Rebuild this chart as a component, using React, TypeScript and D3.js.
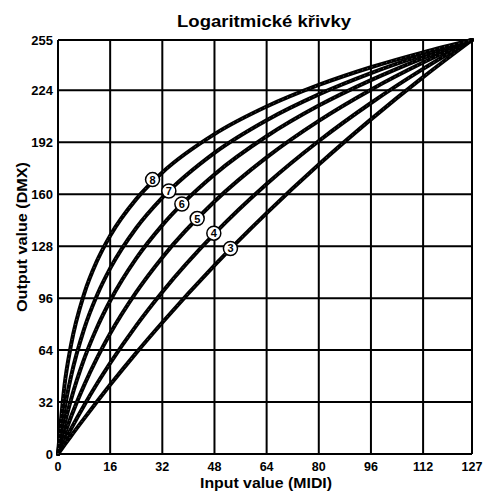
import React, { useEffect, useRef } from 'react';
import * as d3 from 'd3';

// Input (MIDI) sample points
const inputs = [0, 2, 4, 8, 12, 16, 24, 32, 48, 64, 80, 96, 112, 127];

// Output (DMX), labelled 3..8
const curve3 = [0, 5.6, 11.1, 21.8, 32.3, 42.6, 62.3, 81.0, 116.2, 148.4, 178.3, 206.1, 232.1, 255];
const curve4 = [0, 7.9, 15.5, 29.9, 43.4, 56.0, 79.1, 99.8, 135.7, 166.3, 192.8, 216.2, 237.2, 255];
const curve5 = [0, 11.9, 22.9, 42.3, 59.2, 74.2, 99.7, 121.1, 155.5, 182.7, 205.2, 224.4, 241.1, 255];
const curve6 = [0, 18.3, 33.6, 58.4, 78.1, 94.4, 120.5, 141.0, 172.2, 195.7, 214.6, 230.3, 243.9, 255];
const curve7 = [0, 27.6, 47.8, 76.9, 97.9, 114.3, 139.2, 157.9, 185.5, 205.6, 221.5, 234.6, 245.8, 255];
const curve8 = [0, 42.4, 67.2, 98.5, 119.1, 134.5, 157.0, 173.4, 197.0, 214.0, 227.3, 238.2, 247.4, 255];

const curveNames = ['3', '4', '5', '6', '7', '8'];
// where each number badge sits (input, output)
const labelInput = [52.9, 47.8, 42.7, 38, 34, 29];
const labelOutput = [126.6, 136, 145, 154, 162, 169];

const xTicks = [0, 16, 32, 48, 64, 80, 96, 112, 127];
const yTicks = [0, 32, 64, 96, 128, 160, 192, 224, 255];

export default function App() {
  const svgRef = useRef<SVGSVGElement>(null);

  useEffect(() => {
    if (!svgRef.current) return;
    const svg = d3.select(svgRef.current);
    svg.selectAll('*').remove();

    const width = 484;
    const height = 492;
    const left = 58, right = 472, top = 40, bottom = 454;
    const font = 'Liberation Sans, Arial, sans-serif';

    svg.append('rect').attr('width', width).attr('height', height).attr('fill', '#fff');

    const x = d3.scaleLinear().domain([0, 127]).range([left, right]);
    const y = d3.scaleLinear().domain([0, 255]).range([bottom, top]);

    // title (the original face is wider, so stretch it)
    svg.append('text')
      .attr('x', 264).attr('y', 27)
      .attr('text-anchor', 'middle')
      .attr('font-family', font).attr('font-weight', 'bold').attr('font-size', '17px')
      .attr('textLength', 174).attr('lengthAdjust', 'spacingAndGlyphs')
      .text('Logaritmické křivky');

    // grid
    const grid = svg.append('g').attr('stroke', '#000').attr('stroke-width', 2);
    xTicks.forEach(t => {
      grid.append('line').attr('x1', x(t)).attr('x2', x(t)).attr('y1', top).attr('y2', bottom);
    });
    yTicks.forEach(t => {
      grid.append('line').attr('x1', left).attr('x2', right).attr('y1', y(t)).attr('y2', y(t));
    });

    // tick labels
    svg.append('g').selectAll('text')
      .data(xTicks).enter().append('text')
      .attr('x', d => x(d)).attr('y', 471)
      .attr('text-anchor', 'middle')
      .attr('font-family', font).attr('font-weight', 'bold').attr('font-size', '12.5px')
      .text(d => d);

    svg.append('g').selectAll('text')
      .data(yTicks).enter().append('text')
      .attr('x', 53).attr('y', d => y(d)).attr('dy', '0.35em')
      .attr('text-anchor', 'end')
      .attr('font-family', font).attr('font-weight', 'bold').attr('font-size', '13px')
      .text(d => d);

    // axis titles
    svg.append('text')
      .attr('x', 266).attr('y', 488)
      .attr('text-anchor', 'middle')
      .attr('font-family', font).attr('font-weight', 'bold').attr('font-size', '14px')
      .attr('textLength', 132).attr('lengthAdjust', 'spacingAndGlyphs')
      .text('Input value (MIDI)');

    svg.append('text')
      .attr('transform', 'translate(27,237) rotate(-90)')
      .attr('text-anchor', 'middle')
      .attr('font-family', font).attr('font-weight', 'bold').attr('font-size', '15px')
      .attr('textLength', 150).attr('lengthAdjust', 'spacingAndGlyphs')
      .text('Output value (DMX)');

    // curves
    const series = [curve3, curve4, curve5, curve6, curve7, curve8];
    const line = d3.line<number>()
      .x((d, i) => x(inputs[i]))
      .y(d => y(d))
      .curve(d3.curveMonotoneX);

    series.forEach(s => {
      svg.append('path')
        .datum(s)
        .attr('d', line)
        .attr('fill', 'none')
        .attr('stroke', '#000')
        .attr('stroke-width', 4)
        .attr('stroke-linecap', 'round');
      // faint hatching seen on the scanned strokes
      svg.append('path')
        .datum(s)
        .attr('d', line)
        .attr('fill', 'none')
        .attr('stroke', '#fff')
        .attr('stroke-opacity', 0.35)
        .attr('stroke-width', 1)
        .attr('stroke-dasharray', '1,4');
    });

    // number badges
    const badges = svg.append('g').selectAll('g')
      .data(curveNames).enter().append('g')
      .attr('transform', (d, i) => `translate(${x(labelInput[i])},${y(labelOutput[i])})`);
    badges.append('circle')
      .attr('r', 7)
      .attr('fill', '#fff')
      .attr('stroke', '#000')
      .attr('stroke-width', 1.5);
    badges.append('text')
      .attr('text-anchor', 'middle')
      .attr('dy', '0.36em')
      .attr('font-family', font).attr('font-weight', 'bold').attr('font-size', '11px')
      .text(d => d);
  }, []);

  return (
    <svg ref={svgRef} width="484" height="492"
      style={{ position: 'absolute', left: 0, top: 0, display: 'block' }}></svg>
  );
}
